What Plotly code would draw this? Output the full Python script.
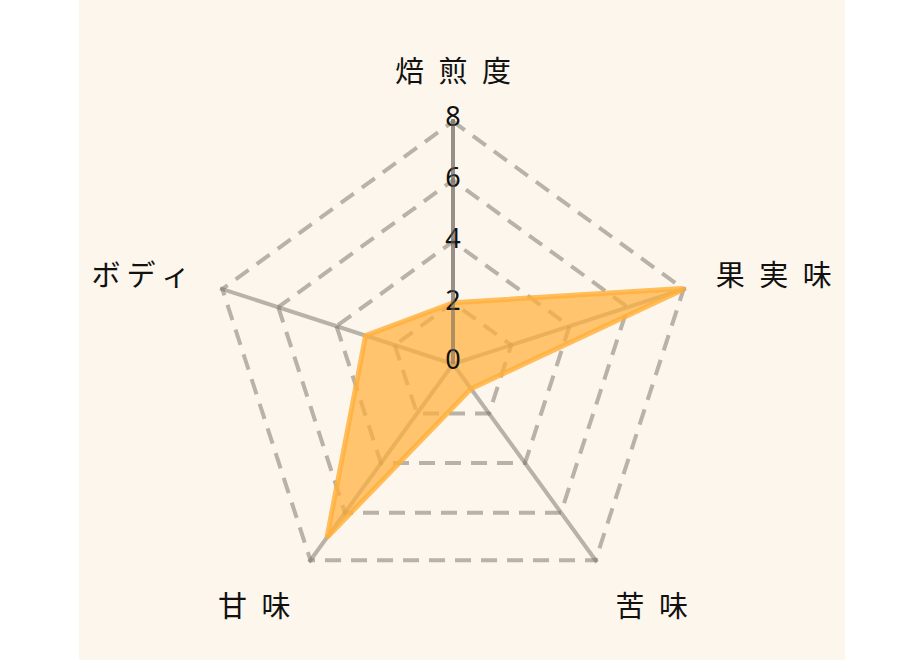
import plotly.graph_objects as go

# コーヒーの味プロファイル
categories = ["焙煎度", "果実味", "苦味", "甘味", "ボディ"]
values = [2, 8, 1, 7, 3]
radial_ticks = [0, 2, 4, 6, 8]
radial_tick_labels = ["0", "2", "4", "6", "8"]
r_max = 8

# 文字間を少し空けた表示用ラベル
tick_labels = ["焙\u2002煎\u2002度", "果\u2002実\u2002味", "苦\u2002味", "甘\u2002味", "ボ\u2009デ\u2009ィ"]

theta_closed = categories + categories[:1]
r_closed = values + values[:1]

W, H = 924, 660
cx, cy, R = 453, 364, 245  # 中心と半径 (px)
grid_color = "rgba(115,110,100,0.5)"

# plotly の polar は r=0 ちょうどの点を描かないので、ラベル位置だけ少しずらす
label_r = [max(t, 0.05) for t in radial_ticks]

fig = go.Figure()

# 外周の破線 (plotly は最外周のグリッドを描かないので)
# 外側半分が切り取られるので太めに
fig.add_trace(go.Scatterpolar(
    r=[r_max] * len(theta_closed),
    theta=theta_closed,
    mode="lines",
    line=dict(color=grid_color, width=8, dash="16px,10px"),
    hoverinfo="skip",
    showlegend=False,
))

fig.add_trace(go.Scatterpolar(
    r=r_closed,
    theta=theta_closed,
    mode="lines",
    fill="toself",
    fillcolor="rgba(255,176,59,0.72)",
    line=dict(color="rgba(255,176,59,0.82)", width=5),
    hoverinfo="skip",
    showlegend=False,
))

# 目盛りラベルを軸上に中央揃えで
fig.add_trace(go.Scatterpolar(
    r=label_r,
    theta=[categories[0]] * len(radial_ticks),
    mode="text",
    text=radial_tick_labels,
    textposition="middle center",
    textfont=dict(size=27, color="#111111", family="Noto Sans, DejaVu Sans, sans-serif"),
    cliponaxis=False,
    hoverinfo="skip",
    showlegend=False,
))

fig.update_layout(
    width=W,
    height=H,
    margin=dict(l=0, r=0, t=0, b=0),
    paper_bgcolor="white",
    showlegend=False,
    font=dict(family="Noto Sans CJK JP, sans-serif", color="#111111"),
    shapes=[dict(
        type="rect", xref="paper", yref="paper",
        x0=79 / W, x1=845 / W, y0=0, y1=1,
        fillcolor="#fdf6ec", line=dict(width=0), layer="below",
    )],
    polar=dict(
        domain=dict(x=[(cx - R) / W, (cx + R) / W],
                    y=[(H - cy - R) / H, (H - cy + R) / H]),
        bgcolor="rgba(0,0,0,0)",
        gridshape="linear",
        radialaxis=dict(
            range=[0, r_max],
            tickvals=radial_ticks,
            showticklabels=False,
            ticks="",
            angle=90,
            showline=True,
            linecolor=grid_color,
            linewidth=4,
            gridcolor=grid_color,
            gridwidth=4,
            griddash="16px,10px",
        ),
        angularaxis=dict(
            categoryarray=categories,
            categoryorder="array",
            tickvals=categories,
            ticktext=tick_labels,
            direction="clockwise",
            rotation=90,
            showline=False,
            gridcolor=grid_color,
            gridwidth=4,
            ticks="outside",
            ticklen=25,
            tickcolor="rgba(0,0,0,0)",
            tickfont=dict(size=29, color="#111111"),
        ),
    ),
)

fig.write_html(
    "out.html",
    config={"displayModeBar": False},
    post_script="document.body.style.margin='0';",
)
